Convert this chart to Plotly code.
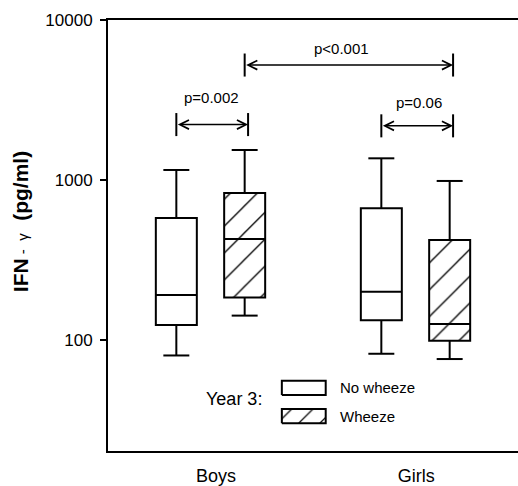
import math
import plotly.graph_objects as go

# ---------------- data ----------------
groups = ["Boys", "Girls"]
group_label_x = [1.58, 4.51]

box_positions = [1.0, 2.0, 4.0, 5.0]
box_condition = ["No wheeze", "Wheeze", "No wheeze", "Wheeze"]
whisker_low = [80, 142, 82, 76]
q1 = [124, 184, 133, 99]
median = [191, 428, 200, 126]
q3 = [579, 830, 665, 422]
whisker_high = [1155, 1540, 1366, 986]

y_tickvals = [100, 1000, 10000]
y_ticktext = ["100", "1000", "10000"]

comp_labels = ["p=0.002", "p<0.001", "p=0.06"]
comp_start = [1.0, 2.0, 4.0]
comp_end = [2.05, 5.05, 5.05]
comp_y = [2220, 5230, 2180]
comp_label_x = [1.51, 3.42, 4.55]
comp_label_y = [3300, 6680, 3070]

legend_labels = ["No wheeze", "Wheeze"]
legend_title = "Year 3:"

# ---------------- style ----------------
BOX_HALF = 0.3
CAP_HALF = 0.19
LW = 2
TICK_HALF_DEC = 0.072
FONT = "Arial, Liberation Sans, sans-serif"

fig = go.Figure()

# box bodies
for cond, pattern in [("No wheeze", ""), ("Wheeze", "/")]:
    idx = [i for i, c in enumerate(box_condition) if c == cond]
    fig.add_trace(go.Bar(
        x=[box_positions[i] for i in idx],
        base=[q1[i] for i in idx],
        y=[q3[i] - q1[i] for i in idx],
        width=2 * BOX_HALF,
        marker=dict(color="white", line=dict(color="black", width=LW),
                    pattern=dict(shape=pattern, size=19, solidity=0.07,
                                 fgcolor="black", bgcolor="white", fgopacity=1,
                                 fillmode="replace")),
        hoverinfo="skip", name=cond,
    ))

# whiskers & caps
wx, wy = [], []
for p, lo, a, b, hi in zip(box_positions, whisker_low, q1, q3, whisker_high):
    wx += [p, p, None, p - CAP_HALF, p + CAP_HALF, None,
           p, p, None, p - CAP_HALF, p + CAP_HALF, None]
    wy += [b, hi, None, hi, hi, None, a, lo, None, lo, lo, None]
fig.add_trace(go.Scatter(x=wx, y=wy, mode="lines",
                         line=dict(color="black", width=LW), hoverinfo="skip"))

# medians
mx, my = [], []
for p, m in zip(box_positions, median):
    mx += [p - BOX_HALF, p + BOX_HALF, None]
    my += [m, m, None]
fig.add_trace(go.Scatter(x=mx, y=my, mode="lines",
                         line=dict(color="black", width=LW), hoverinfo="skip"))

# comparison brackets: end ticks
tx, ty = [], []
for s, e, yv in zip(comp_start, comp_end, comp_y):
    lo = 10 ** (math.log10(yv) - TICK_HALF_DEC)
    hi = 10 ** (math.log10(yv) + TICK_HALF_DEC)
    tx += [s, s, None, e, e, None]
    ty += [lo, hi, None, lo, hi, None]
fig.add_trace(go.Scatter(x=tx, y=ty, mode="lines",
                         line=dict(color="black", width=LW), hoverinfo="skip"))

annotations = []
for s, e, yv, lab, lx, ly in zip(comp_start, comp_end, comp_y, comp_labels,
                                 comp_label_x, comp_label_y):
    annotations.append(dict(
        x=e, y=math.log10(yv), ax=s, ay=math.log10(yv), xref="x", yref="y",
        axref="x", ayref="y", text="", showarrow=True, arrowhead=5,
        startarrowhead=5, arrowside="end+start", arrowwidth=1.5, arrowsize=1.2,
        arrowcolor="black", standoff=0, startstandoff=0))
    annotations.append(dict(
        x=lx, y=math.log10(ly), xref="x", yref="y", text=lab,
        xanchor="center", yanchor="middle",
        showarrow=False, font=dict(size=15, family=FONT, color="black")))

# legend (drawn on an overlay axis in plot fractions)
legend_x0, legend_x1 = 0.424, 0.531
legend_rows = [(0.130, 0.163), (0.0643, 0.0974)]
for lab, (y0, y1), pat in zip(legend_labels, legend_rows, ["", "/"]):
    fig.add_trace(go.Scatter(
        x=[legend_x0, legend_x1, legend_x1, legend_x0, legend_x0],
        y=[y0, y0, y1, y1, y0], xaxis="x2", yaxis="y2", mode="lines",
        fill="toself", fillcolor="white",
        fillpattern=dict(shape=pat, size=15, solidity=0.08,
                         fgcolor="black", bgcolor="white", fgopacity=1,
                         fillmode="replace"),
        line=dict(color="black", width=LW), hoverinfo="skip"))
    annotations.append(dict(
        x=0.5617, y=(y0 + y1) / 2, xref="paper", yref="paper", text=lab,
        xanchor="left", yanchor="middle", showarrow=False,
        font=dict(size=15, family=FONT, color="black")))
annotations.append(dict(
    x=0.3805, y=0.1195, xref="paper", yref="paper", text=legend_title,
    xanchor="right", yanchor="middle", showarrow=False,
    font=dict(size=18, family=FONT, color="black")))

# y title
annotations.append(dict(
    x=0, y=0.531, xref="paper", yref="paper", xshift=-88, textangle=-90,
    xanchor="center", yanchor="middle",
    text=("<b>IFN</b><span style='font-size:15px'>\u00a0-\u00a0\u00a0γ\u00a0\u00a0\u00a0</span>"
          "<b>(pg/ml)</b>"),
    showarrow=False, font=dict(size=21, family=FONT, color="black")))

fig.update_layout(
    width=518, height=486,
    margin=dict(l=108, r=0, t=20, b=35),
    plot_bgcolor="white", paper_bgcolor="white",
    showlegend=False, barmode="overlay",
    font=dict(family=FONT, color="black"),
    annotations=annotations,
    xaxis=dict(range=[0, 6], showline=True, linewidth=LW, linecolor="black",
               mirror=True, ticks="", showgrid=False, zeroline=False,
               tickvals=group_label_x, ticktext=groups, ticklabelstandoff=7,
               tickfont=dict(size=18, family=FONT, color="black")),
    yaxis=dict(type="log", range=[1.306, 4], showline=True, linewidth=LW,
               linecolor="black", ticks="outside", ticklen=6, tickwidth=LW,
               tickcolor="black", showgrid=False, zeroline=False,
               tickvals=y_tickvals, ticktext=y_ticktext, ticklabelstandoff=4,
               tickfont=dict(size=17, family=FONT, color="black")),
    xaxis2=dict(overlaying="x", range=[0, 1], visible=False),
    yaxis2=dict(overlaying="y", range=[0, 1], visible=False),
)

fig.write_html("out.html", config={"displayModeBar": False},
               post_script="document.body.style.margin='0px';")
